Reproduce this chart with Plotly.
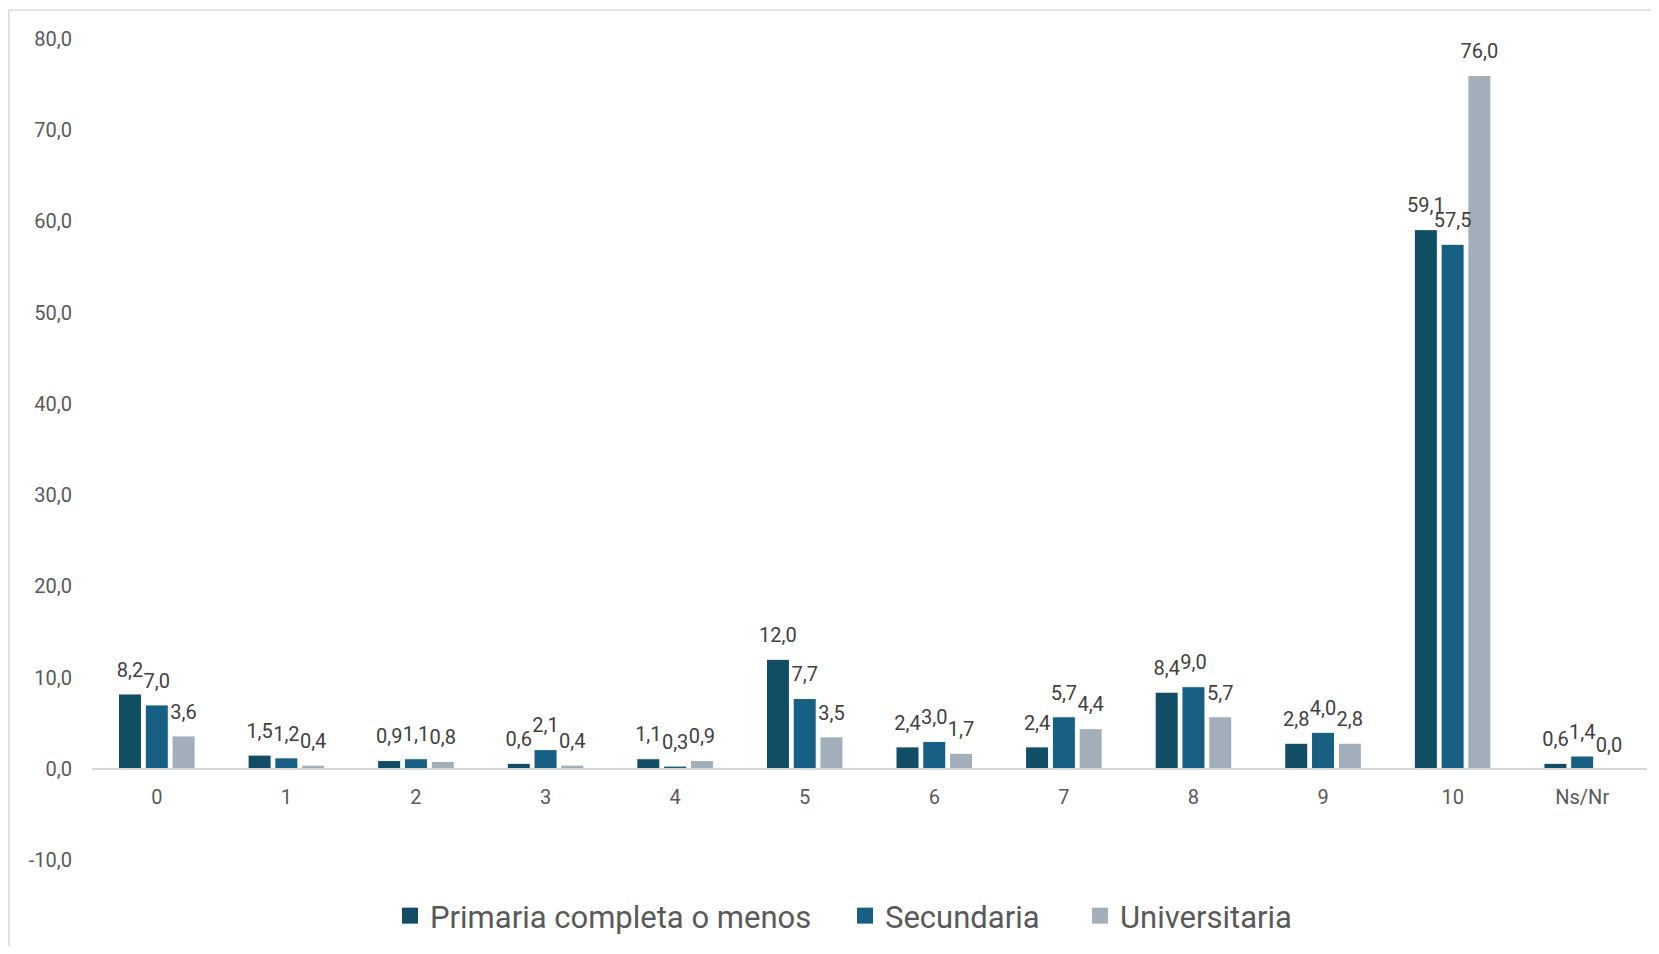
import plotly.graph_objects as go

categories = ["0", "1", "2", "3", "4", "5", "6", "7", "8", "9", "10", "Ns/Nr"]
primaria = [8.2, 1.5, 0.9, 0.6, 1.1, 12.0, 2.4, 2.4, 8.4, 2.8, 59.1, 0.6]
secundaria = [7.0, 1.2, 1.1, 2.1, 0.3, 7.7, 3.0, 5.7, 9.0, 4.0, 57.5, 1.4]
universitaria = [3.6, 0.4, 0.8, 0.4, 0.9, 3.5, 1.7, 4.4, 5.7, 2.8, 76.0, 0.0]
series_names = ["Primaria completa o menos", "Secundaria", "Universitaria"]
colors = ["#124d66", "#176083", "#a2afbb"]
y_ticks = [-10, 0, 10, 20, 30, 40, 50, 60, 70, 80]
y_ticktext = [f"{v:.1f}".replace(".", ",") for v in y_ticks]

# figure fits inside the page's default 8px body margin
OFF = 8
W, H = 1659 - 2 * OFF, 954 - 2 * OFF


def px_x(full_x):
    return (full_x - OFF) / W


def px_y(full_y):
    return 1 - (full_y - OFF) / H


legend_keys = ["legend", "legend2", "legend3"]
legend_left = [390, 845, 1080]  # full-window px of each legend box
BARGAP = 0.38

fig = go.Figure()
all_series = [primaria, secundaria, universitaria]
for name, vals, col in zip(series_names, all_series, colors):
    fig.add_trace(go.Bar(
        x=categories, y=vals, name=name, legendgroup=name, showlegend=False,
        offsetgroup=name,
        marker=dict(color=col, line=dict(color="white", width=1)),
        hoverinfo="x+y",
    ))
# data labels, grouped like the bars
for name, vals in zip(series_names, all_series):
    fig.add_trace(go.Scatter(
        x=categories, y=vals, name=name + " (etiquetas)", legendgroup=name, showlegend=False,
        offsetgroup=name,
        mode="markers+text", marker=dict(size=18, opacity=0),
        text=[f"{v:.1f}".replace(".", ",") for v in vals],
        textposition="top center", cliponaxis=False, hoverinfo="skip",
        textfont=dict(family="Roboto, Noto Sans, sans-serif", size=20, color="#404040"),
    ))
# legend entries (square swatches)
for name, col, lk in zip(series_names, colors, legend_keys):
    fig.add_trace(go.Scatter(
        x=[None], y=[None], name=name, legendgroup=name, legend=lk, showlegend=True,
        offsetgroup=name,
        mode="markers", marker=dict(symbol="square", size=16, color=col),
    ))

legend_style = dict(
    orientation="h", yanchor="middle", xanchor="left", y=px_y(916),
    font=dict(family="Roboto, sans-serif", size=31, color="#595959"),
    bgcolor="rgba(0,0,0,0)", visible=True,
)
layout_legends = {}
for lk, lx in zip(legend_keys, legend_left):
    layout_legends[lk] = dict(legend_style, x=px_x(lx))

fig.update_layout(
    width=W, height=H, showlegend=True,
    margin=dict(l=0, r=0, t=0, b=0, autoexpand=False),
    paper_bgcolor="white", plot_bgcolor="white",
    barmode="group", bargap=BARGAP, bargroupgap=0.14,
    scattermode="group", scattergap=BARGAP,
    separators=",.",
    font=dict(family="Roboto, Noto Sans, sans-serif", color="#595959"),
    xaxis=dict(
        domain=[px_x(92), min(1.0, px_x(1647))],
        anchor="free", position=px_y(769), automargin=False,
        showline=True, linecolor="#d9d9d9", linewidth=2,
        showgrid=False, ticks="", tickfont=dict(size=20, color="#595959"),
        ticklabelstandoff=10,
    ),
    yaxis=dict(
        domain=[px_y(860), px_y(39)], automargin=False,
        range=[-10, 80], tickvals=y_ticks, ticktext=y_ticktext,
        showgrid=False, zeroline=False, showline=False, ticks="",
        tickfont=dict(size=20, color="#595959"),
        ticklabelstandoff=19,
    ),
    shapes=[
        dict(type="line", xref="paper", yref="paper",
             x0=0.0005, x1=1, y0=px_y(10), y1=px_y(10),
             line=dict(color="#d9d9d9", width=1.5)),
        dict(type="line", xref="paper", yref="paper",
             x0=0.0005, x1=0.0005, y0=0, y1=px_y(10),
             line=dict(color="#d9d9d9", width=1.5)),
    ],
    **layout_legends,
)

fig.write_html("out.html")
